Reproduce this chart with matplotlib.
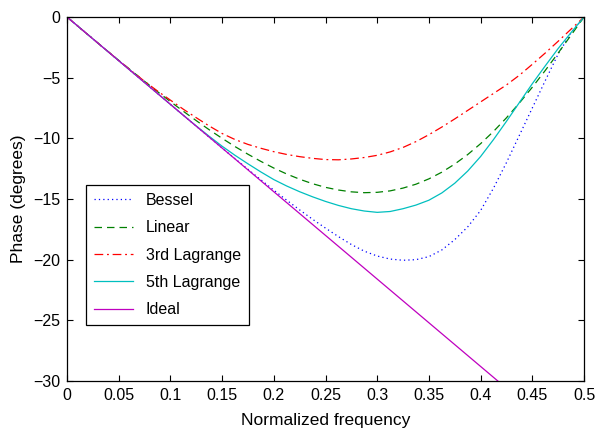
import matplotlib
matplotlib.use("Agg")
import matplotlib.pyplot as plt

freq = [0.0, 0.0125, 0.025, 0.0375, 0.05, 0.0625, 0.075, 0.0875, 0.1, 0.1125,
        0.125, 0.1375, 0.15, 0.1625, 0.175, 0.1875, 0.2, 0.2125, 0.225, 0.2375,
        0.25, 0.2625, 0.275, 0.2875, 0.3, 0.3125, 0.325, 0.3375, 0.35, 0.3625,
        0.375, 0.3875, 0.4, 0.4125, 0.425, 0.4375, 0.45, 0.4625, 0.475, 0.4875, 0.5]

bessel = [0, -0.9, -1.8, -2.7, -3.6, -4.5, -5.4, -6.3, -7.2, -8.1,
          -9.0, -9.9, -10.8, -11.68, -12.55, -13.42, -14.27, -15.1, -15.9, -16.67,
          -17.4, -18.1, -18.75, -19.3, -19.7, -19.95, -20.05, -20.0, -19.75, -19.2,
          -18.35, -17.3, -15.95, -14.1, -12.0, -9.75, -7.5, -5.25, -3.05, -1.3, 0]
linear = [0, -0.90, -1.80, -2.69, -3.57, -4.44, -5.30, -6.15, -6.97, -7.77,
          -8.54, -9.29, -10.00, -10.68, -11.31, -11.90, -12.45, -12.94, -13.37, -13.74,
          -14.04, -14.26, -14.41, -14.48, -14.45, -14.33, -14.10, -13.78, -13.34, -12.79,
          -12.12, -11.34, -10.44, -9.43, -8.31, -7.09, -5.79, -4.41, -2.97, -1.50, 0]
lag3 = [0, -0.9, -1.8, -2.69, -3.58, -4.45, -5.3, -6.1, -6.85, -7.6,
        -8.3, -8.98, -9.6, -10.1, -10.5, -10.82, -11.1, -11.33, -11.51, -11.65,
        -11.75, -11.77, -11.7, -11.58, -11.4, -11.12, -10.75, -10.27, -9.7, -9.07,
        -8.4, -7.7, -7.0, -6.3, -5.6, -4.8, -3.9, -2.97, -2.0, -1.0, 0]
lag5 = [0, -0.9, -1.8, -2.7, -3.6, -4.5, -5.4, -6.3, -7.2, -8.1,
        -8.98, -9.83, -10.65, -11.4, -12.1, -12.77, -13.4, -13.93, -14.4, -14.82,
        -15.2, -15.53, -15.8, -15.99, -16.1, -16.03, -15.8, -15.5, -15.1, -14.5,
        -13.7, -12.7, -11.5, -10.1, -8.6, -7.05, -5.5, -4.03, -2.6, -1.28, 0]
ideal_freq = [0.0, 0.5]
ideal = [0.0, -36.0]

xticks = [0, 0.05, 0.1, 0.15, 0.2, 0.25, 0.3, 0.35, 0.4, 0.45, 0.5]
xticklabels = ['0', '0.05', '0.1', '0.15', '0.2', '0.25', '0.3', '0.35', '0.4', '0.45', '0.5']
yticks = [-30, -25, -20, -15, -10, -5, 0]
yticklabels = ['\u221230', '\u221225', '\u221220', '\u221215', '\u221210', '\u22125', '0']

plt.rcParams['font.family'] = ['Liberation Sans', 'DejaVu Sans']

fig = plt.figure(figsize=(5.96, 4.33), dpi=100)
ax = fig.add_axes([67/596, 1 - 381/433, (584 - 67)/596, (381 - 17)/433])

lw = 0.9
ax.plot(freq, bessel, linestyle=(0, (1, 2.5)), color='#0000ff', lw=lw, label='Bessel')
ax.plot(freq, linear, linestyle=(0, (6, 4)), color='#008000', lw=lw, label='Linear')
ax.plot(freq, lag3, linestyle=(0, (7, 3, 1.5, 3)), color='#ff0000', lw=lw, label='3rd Lagrange')
ax.plot(freq, lag5, linestyle='-', color='#00bfbf', lw=lw, label='5th Lagrange')
ax.plot(ideal_freq, ideal, linestyle='-', color='#bf00bf', lw=lw, label='Ideal')

ax.set_xlim(0, 0.5)
ax.set_ylim(-30, 0)
ax.set_xticks(xticks)
ax.set_xticklabels(xticklabels)
ax.set_yticks(yticks)
ax.set_yticklabels(yticklabels)
ax.tick_params(direction='in', top=True, right=True, length=4, width=0.8, labelsize=11.5, pad=5)
for s in ax.spines.values():
    s.set_linewidth(0.9)

ax.set_xlabel('Normalized frequency', fontsize=12.5, labelpad=7)
ax.set_ylabel('Phase (degrees)', fontsize=12.5, labelpad=5)

leg = ax.legend(loc='upper left', bbox_to_anchor=((86 - 67)/517, (381 - 185)/364),
                borderaxespad=0, fancybox=False, framealpha=1, edgecolor='black',
                handlelength=2.45, handletextpad=0.8, labelspacing=0.77, borderpad=0.5,
                fontsize=11.5)
leg.get_frame().set_linewidth(0.9)

fig.savefig('out.png', dpi=100)
